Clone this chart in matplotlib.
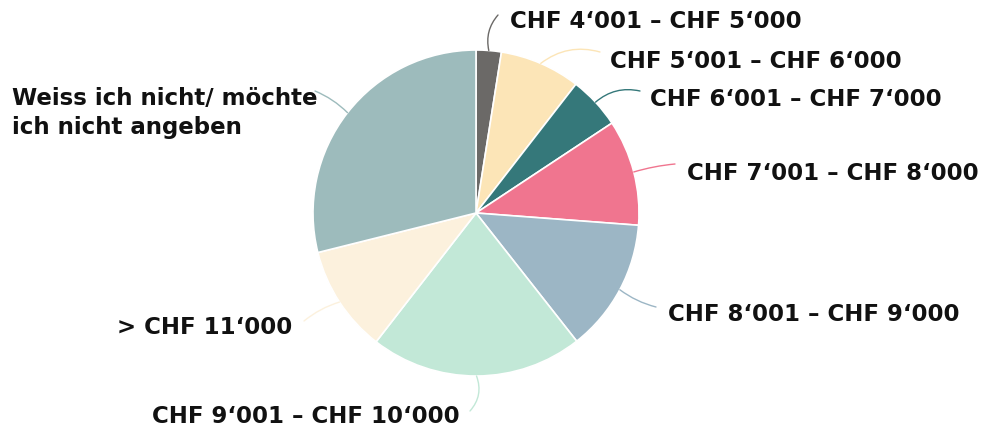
import numpy as np
import matplotlib
matplotlib.use("Agg")
import matplotlib.pyplot as plt

# Data (shares in %, clockwise from 12 o'clock)
labels = [
    "CHF 4‘001 – CHF 5‘000",
    "CHF 5‘001 – CHF 6‘000",
    "CHF 6‘001 – CHF 7‘000",
    "CHF 7‘001 – CHF 8‘000",
    "CHF 8‘001 – CHF 9‘000",
    "CHF 9‘001 – CHF 10‘000",
    "> CHF 11‘000",
    "Weiss ich nicht/ möchte\nich nicht angeben",
]
shares = [2.5, 8.0, 5.2, 10.5, 13.2, 21.1, 10.6, 28.9]
colors = ["#6b6967", "#fce5b7", "#35787a", "#f0758f",
          "#9cb6c5", "#c2e8d7", "#fcf1dd", "#9dbbbc"]

W, H = 981, 431
CX, CY, R = 476, 214, 163

# label layout in pixels: (text x, text y, ha, leader end x, leader end y, rad)
layout = [
    (510, 21, "left", 498, 16, 0.25),
    (610, 61, "left", 600, 53, 0.25),
    (650, 100, "left", 640, 92, 0.25),
    (687, 173, "left", 675, 165, 0.05),
    (668, 315, "left", 656, 308, -0.1),
    (460, 417, "right", 470, 412, 0.3),
    (292, 328, "right", 304, 322, -0.1),
    (12, 113, "left", 315, 92, -0.1),
]

def px(x, y):
    return (x - CX) / R, (CY - y) / R

fig = plt.figure(figsize=(W / 100, H / 100), dpi=100)
ax = fig.add_axes([(CX - R) / W, (H - CY - R) / H, 2 * R / W, 2 * R / H])
wedges, _ = ax.pie(shares, colors=colors, startangle=90, counterclock=False,
                   radius=1, wedgeprops=dict(edgecolor="white", linewidth=1.2))
ax.set_xlim(-1, 1)
ax.set_ylim(-1, 1)
ax.set_aspect("equal")
ax.axis("off")

for w, lab, col, (tx, ty, ha, lx, ly, rad) in zip(wedges, labels, colors, layout):
    ang = np.deg2rad((w.theta1 + w.theta2) / 2)
    sx, sy = np.cos(ang), np.sin(ang)
    ax.annotate("", xy=(sx, sy), xytext=px(lx, ly), annotation_clip=False,
                arrowprops=dict(arrowstyle="-", color=col, lw=1,
                                connectionstyle=f"arc3,rad={rad}",
                                shrinkA=0, shrinkB=0))
    ax.text(*px(tx, ty), lab, ha=ha, va="center", fontsize=16.5,
            fontweight="bold", family="DejaVu Sans", color="#111111",
            linespacing=1.3, clip_on=False)

fig.savefig("out.png", dpi=100, facecolor="white")
